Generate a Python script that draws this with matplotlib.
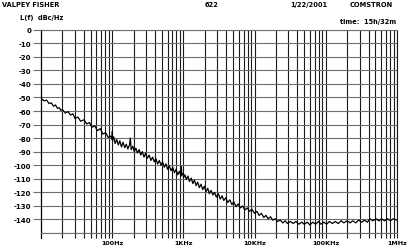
import matplotlib
matplotlib.use('Agg')
import matplotlib.pyplot as plt
from matplotlib.ticker import FixedLocator, NullFormatter

# Phase noise trace (Hz, dBc/Hz)
freq_hz = [
    10, 11, 12, 13, 14, 15, 16, 17, 18, 19, 20, 22, 24, 26, 28, 30, 33, 36,
    40, 44, 48, 52, 57, 62, 68, 74, 81, 88, 95,
    100, 100.5, 101, 105, 110, 116, 122, 128, 135, 142, 150, 158, 166, 175,
    180, 185, 195, 205, 215, 227, 240, 252, 265, 280, 295, 310, 330, 350,
    370, 390, 410, 435, 460, 485, 510, 540, 570, 600, 635, 670, 710, 750,
    790, 835, 880, 930, 940, 950, 980, 1010,
    1050, 1100, 1160, 1220, 1290, 1360, 1430, 1510, 1590, 1680, 1770, 1870,
    1970, 2080, 2200, 2320, 2450, 2600, 2750, 2900, 3100, 3300, 3500, 3700,
    3950, 4200, 4500, 4800, 5100, 5500, 5900, 6300, 6800, 7300, 7900, 8500,
    9200, 10000,
    10800, 11600, 12500, 13500, 14500, 15500, 16800, 18000, 19500, 21000,
    23000, 25000, 27000, 29000, 32000, 35000, 38000, 42000, 46000, 50000,
    55000, 60000, 66000, 72000, 79000, 86000, 94000, 103000, 113000, 124000,
    136000, 150000, 165000, 180000, 200000, 220000, 240000, 265000, 290000,
    320000, 350000, 385000, 420000, 460000, 510000, 560000, 610000, 670000,
    740000, 810000, 890000, 1000000,
]
level_dbc = [
    -50.5, -52.5, -52, -54.5, -54, -56.5, -55.5, -58, -57.5, -59.5, -59,
    -61.5, -60.5, -63, -62, -65.5, -64.5, -67.5, -66.5, -69.5, -68.5, -72,
    -71, -74.5, -73, -77, -76, -79.5, -78.5,
    -81, -75, -82, -79, -84, -81, -85, -82, -86.5, -83, -87, -84.5, -88, -85,
    -80, -88.5, -86, -90, -87.5, -91, -88.5, -92.5, -90, -94, -91, -95,
    -92.5, -96.5, -94, -97.5, -95, -99, -96.5, -100, -97.5, -101.5, -99,
    -103, -100.5, -104, -101.5, -105.5, -103, -107, -104.5, -108, -101,
    -107, -106, -109,
    -107, -110.5, -108, -112, -109.5, -113.5, -111, -115, -112.5, -116.5,
    -114, -118, -115.5, -119.5, -117, -121, -118.5, -122, -120, -123.5,
    -121, -125, -122.5, -126, -124, -127.5, -125.5, -129, -127, -130.5,
    -128.5, -131.5, -130, -133, -131.5, -134, -132.5, -135.5,
    -134, -137, -135.5, -138.5, -137, -139.5, -138, -140.5, -139.5, -141.5,
    -140.5, -142.5, -141, -143, -141.5, -143, -141.5, -143.5, -142, -143.5,
    -142, -144, -142, -143.5, -141.5, -143.5, -142, -143.5, -141.5, -143,
    -141.5, -143, -141, -142.5, -141, -142.5, -141, -142.5, -140.5,
    -142, -140.5, -142, -139.5, -141, -139.5, -141, -139.5, -141,
    -139.5, -141, -139.5, -140.5,
]

major_freqs = [100, 1000, 10000, 100000, 1000000]
major_labels = ['100Hz', '1KHz', '10KHz', '100KHz', '1MHz']
y_ticks = [0, -10, -20, -30, -40, -50, -60, -70, -80, -90, -100, -110,
           -120, -130, -140]

fig = plt.figure(figsize=(4.10, 2.51), dpi=100)
ax = fig.add_axes([0.1, 0.0677, 0.868, 0.81])

ax.plot(freq_hz, level_dbc, color='black', lw=0.9)

ax.set_xscale('log')
ax.set_xlim(10, 1e6)
ax.set_ylim(-150, 0)

# vertical grid at every 1..9 x decade, black
grid_x = [m * 10 ** d for d in range(1, 6) for m in range(1, 10)][1:] + [1e6]
for gx in grid_x:
    ax.axvline(gx, color='#1a1a1a', lw=0.8, zorder=0)
for gy in range(0, -151, -10):
    ax.axhline(gy, color='#6e6e6e', lw=0.8, zorder=0)

ax.xaxis.set_major_locator(FixedLocator(major_freqs))
ax.xaxis.set_minor_locator(FixedLocator(grid_x))
ax.xaxis.set_minor_formatter(NullFormatter())
ax.set_xticklabels(major_labels)
ax.set_yticks(y_ticks)
ax.set_yticklabels([str(v) for v in y_ticks])

ax.tick_params(axis='x', which='both', direction='out', length=3.8,
               width=0.8, color='#1a1a1a', labelsize=4.6, pad=1)
ax.tick_params(axis='y', direction='out', length=5.5, width=0.8,
               color='#6e6e6e', labelsize=5.0, pad=1.5)
for lab in ax.get_xticklabels() + ax.get_yticklabels():
    lab.set_fontweight('bold')

for side in ['top', 'bottom', 'right']:
    ax.spines[side].set_color('#6e6e6e')
    ax.spines[side].set_linewidth(0.8)
ax.spines['right'].set_color('#1a1a1a')
ax.spines['left'].set_color('black')
ax.spines['left'].set_linewidth(0.9)
ax.spines['left'].set_bounds(-153.5, 0)

txt = dict(fontsize=4.8, fontweight='bold', color='black', va='center')
fig.text(2 / 410, 1 - 5 / 251, 'VALPEY FISHER', **txt)
fig.text(205 / 410, 1 - 5 / 251, '622', **txt)
fig.text(290 / 410, 1 - 5 / 251, '1/22/2001', **txt)
fig.text(350 / 410, 1 - 5 / 251, 'COMSTRON', **txt)
fig.text(20 / 410, 1 - 18 / 251, 'L(f)  dBc/Hz', **txt)
fig.text(340 / 410, 1 - 22 / 251, 'time:  15h/32m', **txt)

plt.savefig('out.png', dpi=100)
